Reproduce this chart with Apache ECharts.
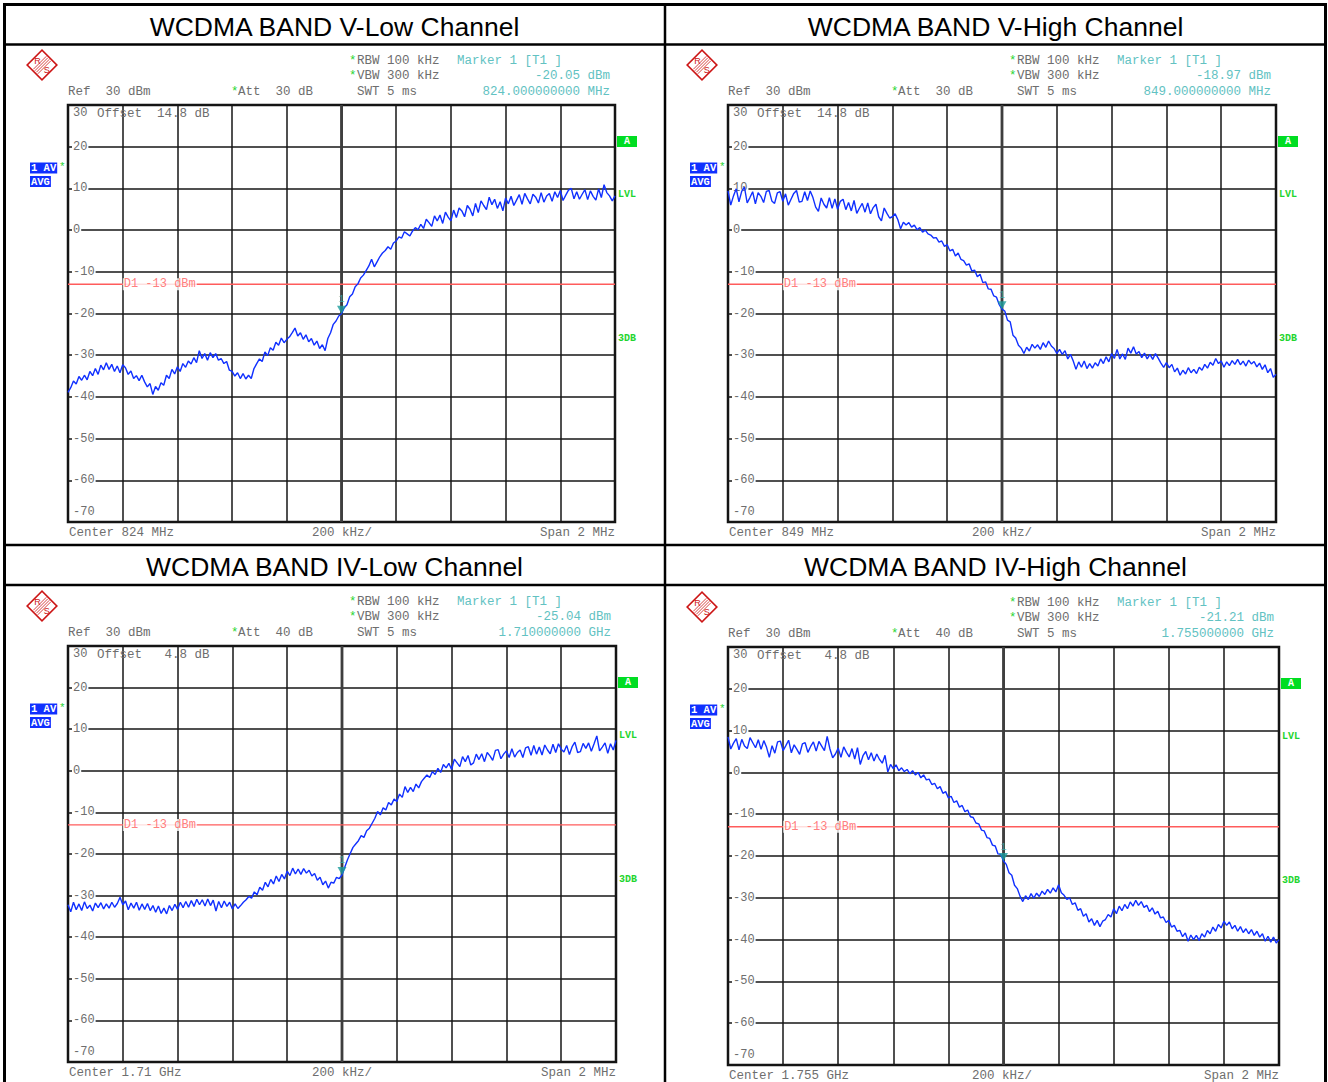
<!DOCTYPE html>
<html><head><meta charset="utf-8">
<script src="https://cdn.jsdelivr.net/npm/echarts@6/dist/echarts.min.js"></script>
<style>html,body{margin:0;padding:0;background:#fff;}#c{width:1328px;height:1082px;}</style>
</head><body><div id="c"></div>
<script>
// ---------------- data ----------------
const titles = ['WCDMA BAND V-Low Channel','WCDMA BAND V-High Channel','WCDMA BAND IV-Low Channel','WCDMA BAND IV-High Channel'];
const centerLabels = ['Center 824 MHz','Center 849 MHz','Center 1.71 GHz','Center 1.755 GHz'];
const attLabels = ['Att  30 dB','Att  30 dB','Att  40 dB','Att  40 dB'];
const offsetLabels = ['Offset  14.8 dB','Offset  14.8 dB','Offset   4.8 dB','Offset   4.8 dB'];
const markerLevels = [-20.05,-18.97,-25.04,-21.21];
const markerLevelLabels = ['-20.05 dBm','-18.97 dBm','-25.04 dBm','-21.21 dBm'];
const markerFreqLabels = ['824.000000000 MHz','849.000000000 MHz','1.710000000 GHz','1.755000000 GHz'];
const refLabel = 'Ref  30 dBm';
const rbwLabel = 'RBW 100 kHz', vbwLabel = 'VBW 300 kHz', swtLabel = 'SWT 5 ms';
const markerTitle = 'Marker 1 [T1 ]';
const divLabel = '200 kHz/', spanLabel = 'Span 2 MHz';
const limitLevel = -13, limitLabel = 'D1 -13 dBm';
const spanKHz = 2000, divKHz = 200;
const yTicks = [30,20,10,0,-10,-20,-30,-40,-50,-60,-70];

const traceVLow = [
-38.9,-37.8,-36.2,-36.9,-35.1,-36.0,-34.8,-35.9,-33.9,-34.9,
-33.2,-34.6,-32.4,-33.5,-31.8,-33.4,-32.2,-33.9,-32.6,-34.2,
-32.3,-33.0,-34.6,-33.8,-35.6,-34.9,-36.1,-34.8,-36.4,-37.6,
-36.8,-39.4,-37.5,-38.4,-36.6,-37.2,-34.8,-35.6,-33.4,-34.5,
-32.8,-33.9,-32.0,-32.9,-31.4,-32.1,-30.6,-31.8,-28.9,-30.8,
-29.6,-31.2,-29.4,-30.6,-29.6,-31.2,-30.8,-32.0,-31.5,-33.6,
-33.9,-35.0,-34.2,-35.6,-34.4,-35.7,-34.8,-35.6,-33.2,-32.0,
-30.9,-31.5,-29.2,-30.1,-28.2,-28.8,-26.9,-27.6,-25.9,-27.0,
-26.2,-25.6,-24.6,-23.5,-25.4,-24.6,-26.2,-25.1,-26.8,-26.0,
-27.6,-26.6,-28.4,-27.5,-28.9,-26.0,-24.6,-22.6,-21.8,-20.6,
-20.05,-18.6,-17.9,-16.0,-15.3,-13.6,-12.9,-11.5,-10.8,-9.7,
-8.6,-7.0,-8.8,-7.6,-6.4,-5.5,-4.9,-4.0,-4.6,-3.1,
-2.6,-1.6,-1.9,-0.4,-0.9,-1.4,-0.2,0.6,0.1,1.4,
0.4,2.6,1.8,0.9,3.4,2.2,3.6,1.6,4.3,3.1,
2.2,4.8,3.0,5.3,4.6,3.2,5.9,5.0,3.4,6.4,
4.2,7.0,5.9,4.9,7.9,6.1,7.4,5.2,6.8,4.6,
7.7,6.3,8.1,5.9,7.2,8.5,6.2,8.8,7.5,6.3,
8.6,7.9,6.5,9.0,6.7,8.2,8.8,6.9,9.2,7.8,
9.5,7.1,8.4,9.6,10.0,7.5,9.2,7.4,8.6,9.7,
7.3,9.4,8.1,7.2,9.9,7.8,10.9,9.0,8.2,7.0,
8.2];

const traceVHigh = [
9.4,6.0,8.2,9.9,6.8,9.3,10.3,6.5,7.8,9.2,
6.3,9.0,8.1,6.6,9.3,9.5,7.0,6.4,8.9,9.2,
6.9,8.7,6.0,7.4,8.8,9.5,6.7,6.9,9.2,7.1,
9.4,7.8,5.5,4.5,7.7,6.2,5.3,7.8,5.2,7.5,
5.0,6.9,7.4,4.9,6.6,4.6,7.1,4.0,5.3,6.4,
4.3,6.5,3.9,5.4,6.2,3.2,2.2,5.3,4.0,2.9,
3.2,3.9,2.5,0.3,1.9,1.2,1.8,0.7,1.2,0.1,
0.6,-0.5,0.0,-0.9,-1.2,-1.9,-1.8,-2.9,-2.6,-3.9,
-3.5,-5.0,-4.6,-6.2,-5.5,-7.0,-7.3,-8.4,-8.1,-9.8,
-9.6,-11.2,-10.6,-12.6,-12.4,-14.1,-14.2,-15.8,-16.1,-17.9,
-18.97,-19.4,-21.6,-22.0,-25.2,-25.9,-27.6,-28.3,-29.6,-28.1,
-29.0,-27.4,-28.3,-27.5,-28.6,-27.0,-28.1,-26.6,-27.8,-28.4,
-29.6,-28.6,-29.8,-28.9,-30.9,-29.8,-31.4,-33.4,-31.6,-32.9,
-31.4,-33.2,-32.0,-33.1,-31.8,-32.6,-30.9,-32.0,-30.4,-31.6,
-29.6,-30.8,-28.6,-30.9,-29.7,-31.0,-28.3,-29.5,-28.0,-29.7,
-29.1,-30.6,-29.5,-30.9,-29.8,-31.0,-29.6,-30.7,-31.9,-32.9,
-31.8,-33.0,-32.2,-34.0,-33.1,-34.8,-33.6,-34.5,-33.0,-34.2,
-33.4,-34.4,-32.9,-33.6,-32.2,-33.1,-31.7,-32.4,-30.8,-32.0,
-31.4,-32.9,-31.6,-32.5,-31.3,-32.2,-31.0,-32.3,-31.4,-32.6,
-31.2,-32.1,-31.5,-32.8,-31.9,-33.4,-32.3,-34.2,-33.2,-35.3,
-34.6];

const traceIVLow = [
-32.2,-33.9,-31.6,-33.4,-32.0,-33.6,-31.5,-33.1,-32.3,-33.7,
-31.8,-32.9,-31.7,-33.2,-32.0,-33.0,-31.6,-32.8,-31.9,-30.4,
-32.2,-31.3,-33.4,-31.8,-33.0,-31.6,-33.5,-32.0,-33.3,-31.9,
-33.6,-32.4,-34.0,-32.5,-34.3,-33.0,-34.4,-32.4,-33.6,-32.1,
-33.3,-31.6,-32.9,-31.4,-32.8,-31.2,-32.6,-30.9,-32.2,-31.0,
-32.5,-30.8,-32.4,-31.1,-33.7,-31.4,-32.9,-31.3,-32.6,-31.6,
-33.2,-32.0,-33.1,-32.4,-31.6,-31.0,-30.2,-30.6,-29.1,-29.8,
-28.0,-28.7,-26.8,-27.9,-26.1,-27.2,-25.3,-26.6,-24.9,-26.0,
-24.1,-25.2,-23.4,-24.8,-23.6,-24.9,-23.5,-24.6,-23.9,-25.3,
-24.7,-26.3,-25.6,-27.4,-26.5,-28.2,-26.8,-27.0,-25.6,-25.9,
-25.04,-23.2,-21.4,-19.9,-18.4,-17.6,-16.8,-15.6,-16.0,-14.4,
-13.8,-12.6,-11.4,-9.8,-10.6,-8.9,-9.4,-7.6,-8.2,-6.8,
-7.4,-5.6,-6.4,-3.8,-5.2,-4.0,-5.0,-3.2,-4.1,-2.6,
-1.8,-1.0,-1.6,-0.2,-0.9,0.6,-0.4,1.5,0.7,1.8,
0.3,2.8,1.9,1.0,3.4,2.2,3.7,1.4,1.9,4.0,
2.7,4.1,2.2,4.4,3.6,2.5,4.9,5.1,2.9,4.0,
4.8,3.2,5.3,3.3,4.4,5.0,3.2,5.5,5.8,3.7,
6.1,4.0,5.7,3.8,6.2,5.0,4.1,6.4,4.4,6.5,
5.2,4.5,6.1,3.9,5.8,6.9,4.4,4.6,6.6,5.4,
6.7,4.7,6.5,8.4,4.8,5.7,6.7,4.2,6.5,5.0,
7.3];

const traceIVHigh = [
8.5,5.6,7.0,8.1,5.4,7.9,6.3,5.7,8.3,7.1,
5.9,7.8,5.5,7.6,6.0,3.6,6.4,4.6,7.3,7.5,
5.2,6.4,7.7,4.7,6.6,5.5,4.3,6.8,7.1,4.8,
6.2,7.3,5.1,7.4,6.3,5.2,8.6,5.6,3.5,4.4,
5.8,3.6,6.1,4.8,3.7,5.7,3.2,5.9,1.9,4.0,
5.0,3.0,4.7,2.7,4.4,3.1,2.2,4.1,0.1,1.9,
0.9,1.8,0.4,1.1,0.2,0.7,-0.3,0.4,-0.6,0.0,
-1.3,-0.6,-1.8,-1.6,-2.9,-2.6,-3.9,-3.4,-5.0,-4.6,
-6.1,-5.7,-7.2,-6.8,-8.3,-7.9,-9.4,-9.0,-10.6,-10.8,
-12.1,-12.3,-13.8,-14.0,-15.6,-15.8,-17.4,-17.6,-19.5,-19.6,
-21.21,-22.0,-24.0,-24.6,-27.0,-27.8,-29.6,-30.9,-29.5,-30.4,
-29.0,-30.1,-28.9,-29.7,-28.4,-29.2,-28.0,-28.9,-27.6,-28.6,
-26.9,-28.8,-29.4,-30.4,-30.0,-31.6,-31.2,-33.0,-32.6,-34.4,
-33.8,-35.8,-35.0,-36.6,-35.4,-36.9,-35.6,-35.2,-34.0,-34.6,
-32.6,-33.8,-32.0,-33.1,-31.6,-32.6,-31.0,-32.0,-30.6,-31.8,
-30.9,-32.3,-31.8,-33.3,-32.4,-33.9,-33.2,-34.8,-34.6,-35.9,
-35.4,-37.0,-36.6,-38.0,-37.8,-39.3,-38.4,-40.4,-38.9,-40.0,
-39.0,-40.2,-38.6,-39.4,-37.8,-38.6,-37.0,-38.0,-36.4,-37.2,
-35.6,-36.6,-35.8,-37.4,-36.6,-38.0,-36.9,-38.3,-37.4,-38.6,
-37.6,-39.0,-38.0,-39.4,-38.6,-40.4,-39.2,-40.6,-39.4,-40.8,
-40.0];

const traces = [traceVLow, traceVHigh, traceIVLow, traceIVHigh];

// ---------------- layout & style ----------------
const panels = [
  {L:68, T:105, W:547, H:417, tx:334.5, ty:27},
  {L:728,T:105, W:548, H:417, tx:995.5, ty:27},
  {L:68, T:646, W:548, H:416, tx:334.5, ty:567},
  {L:728,T:647, W:551, H:418, tx:995.5, ty:567}
];
const MONO = '"Liberation Mono","DejaVu Sans Mono",monospace';
const GRAY = '#6e6e6e', TEAL = '#62c2c2', GREEN = '#1fd52f', RED = '#ff5c5c', BLUE = '#1030ff', LOGO = '#cc1515';
const FONT = '12.5px ' + MONO;

function txt(x, y, s, color, align, font, extra) {
  return {type:'text', x:x, y:y, silent:true, z:100,
    style:Object.assign({text:s, fill:color, font:font || FONT, align:align || 'left', verticalAlign:'middle'}, extra || {})};
}

const graphics = [];
// table frame
graphics.push({type:'rect', silent:true, z:50, shape:{x:4.5,y:4.5,width:1321,height:1095}, style:{fill:'none', stroke:'#000', lineWidth:3}});
graphics.push({type:'line', silent:true, z:50, shape:{x1:665,y1:4,x2:665,y2:1082}, style:{stroke:'#000', lineWidth:2.5}});
[44.5, 545, 585].forEach(function(y){
  graphics.push({type:'line', silent:true, z:50, shape:{x1:4,y1:y,x2:1326,y2:y}, style:{stroke:'#000', lineWidth:2.5}});
});

panels.forEach(function(p, k){
  const R = p.L + p.W, B = p.T + p.H;
  graphics.push(txt(p.tx, p.ty, titles[k], '#000', 'center', '26.5px "Liberation Sans", Arial, sans-serif'));
  // logo
  const cx = p.L - 26, cy = p.T - 40;
  const logo = [{type:'rect', shape:{x:-10.5,y:-10.5,width:21,height:21}, rotation:Math.PI/4, style:{fill:'#fff', stroke:LOGO, lineWidth:1.6}}];
  [-2.2,-0.7,0.8,2.3].forEach(function(o){
    logo.push({type:'line', shape:{x1:-6.5+o,y1:6.5+o,x2:6.5+o,y2:-6.5+o}, style:{stroke:LOGO, lineWidth:0.8}});
  });
  logo.push({type:'text', x:-4.5, y:-4.5, style:{text:'R', fill:LOGO, font:'9px "Liberation Sans"', align:'center', verticalAlign:'middle'}});
  logo.push({type:'text', x:4.8, y:4.8, style:{text:'S', fill:LOGO, font:'9px "Liberation Sans"', align:'center', verticalAlign:'middle'}});
  graphics.push({type:'group', x:cx, y:cy, silent:true, z:100, children:logo});
  // header texts
  graphics.push(txt(p.L + 281, p.T - 44, '*', GREEN));
  graphics.push(txt(p.L + 289, p.T - 44, rbwLabel, GRAY));
  graphics.push(txt(p.L + 281, p.T - 29, '*', GREEN));
  graphics.push(txt(p.L + 289, p.T - 29, vbwLabel, GRAY));
  graphics.push(txt(p.L + 289, p.T - 13, swtLabel, GRAY));
  graphics.push(txt(p.L + 389, p.T - 44, markerTitle, TEAL));
  graphics.push(txt(R - 5, p.T - 29, markerLevelLabels[k], TEAL, 'right'));
  graphics.push(txt(R - 5, p.T - 13, markerFreqLabels[k], TEAL, 'right'));
  graphics.push(txt(p.L, p.T - 13, refLabel, GRAY));
  graphics.push(txt(p.L + 163, p.T - 13, '*', GREEN));
  graphics.push(txt(p.L + 170, p.T - 13, attLabels[k], GRAY));
  graphics.push(txt(p.L + 29, p.T + 9, offsetLabels[k], GRAY));
  // left trace info
  graphics.push(txt(p.L - 38, p.T + 63, '1 AV', '#fff', 'left', 'bold 10.5px ' + MONO, {backgroundColor:BLUE, padding:[0,1,0,1]}));
  graphics.push(txt(p.L - 38, p.T + 76.5, 'AVG', '#fff', 'left', 'bold 10.5px ' + MONO, {backgroundColor:BLUE, padding:[0,1,0,1]}));
  graphics.push(txt(p.L - 9, p.T + 62, '*', GREEN, 'left', '11px ' + MONO));
  // right side flags
  graphics.push({type:'rect', silent:true, z:100, shape:{x:R + 2, y:p.T + 31, width:20, height:11}, style:{fill:'#00dd22'}});
  graphics.push(txt(R + 12, p.T + 36.5, 'A', '#fff', 'center', 'bold 10px ' + MONO));
  graphics.push(txt(R + 3, p.T + 89, 'LVL', GREEN, 'left', 'bold 10px ' + MONO));
  graphics.push(txt(R + 3, p.T + 233, '3DB', GREEN, 'left', 'bold 10px ' + MONO));
  // footer
  graphics.push(txt(p.L + 1, B + 11, centerLabels[k], GRAY));
  graphics.push(txt(p.L + 244, B + 11, divLabel, GRAY));
  graphics.push(txt(R, B + 11, spanLabel, GRAY, 'right'));
});

// ---------------- chart ----------------
const yTop = yTicks[0], yBot = yTicks[yTicks.length - 1];
const grids = [], xAxes = [], yAxes = [], series = [];
panels.forEach(function(p, k){
  grids.push({left:p.L, top:p.T, width:p.W, height:p.H, show:true, borderColor:'#111', borderWidth:2.5, backgroundColor:'transparent'});
  xAxes.push({type:'value', gridIndex:k, min:-spanKHz/2, max:spanKHz/2, interval:divKHz,
    axisLine:{show:false}, axisTick:{show:false}, axisLabel:{show:false},
    splitLine:{show:true, lineStyle:{color:'#161616', width:1.5}}});
  yAxes.push({type:'value', gridIndex:k, min:yBot, max:yTop, interval:yTicks[0]-yTicks[1],
    axisLine:{show:false}, axisTick:{show:false},
    splitLine:{show:true, lineStyle:{color:'#161616', width:1.5}},
    axisLabel:{inside:true, margin:4, showMinLabel:true, showMaxLabel:true,
      formatter:function(v){
        if (v === yTop) return '{sp| }\n{n|' + v + '}';
        if (v === yBot) return '{n|' + v + '}\n{sp2| }';
        return '{n|' + v + '}';
      },
      rich:{
        n:{color:GRAY, fontFamily:MONO, fontSize:12, lineHeight:14, backgroundColor:'#fff', padding:[0,1,0,1]},
        sp:{fontSize:1, lineHeight:16},
        sp2:{fontSize:1, lineHeight:20}
      }}});
  const tr = traces[k];
  const pts = tr.map(function(v, i){ return [-spanKHz/2 + i * spanKHz / (tr.length - 1), v]; });
  // center graticule line (heavier on the analyser screen)
  series.push({type:'line', xAxisIndex:k, yAxisIndex:k, silent:true, symbol:'none', animation:false,
    data:[[0, yTop], [0, yBot]], lineStyle:{color:'#3e3e3e', width:2.8}, z:1});
  // display line D1
  series.push({type:'line', xAxisIndex:k, yAxisIndex:k, silent:true, symbol:'none', animation:false,
    data:[[-spanKHz/2, limitLevel], [spanKHz/2, limitLevel]], lineStyle:{color:RED, width:1.4}, z:2});
  series.push({type:'scatter', xAxisIndex:k, yAxisIndex:k, silent:true, animation:false, symbolSize:0.1,
    itemStyle:{color:'rgba(0,0,0,0)'}, data:[[-spanKHz/2 + divKHz, limitLevel]], z:3,
    label:{show:true, position:'right', distance:0, formatter:limitLabel, color:RED, fontFamily:MONO, fontSize:12,
      backgroundColor:'#fff', padding:[0,1,0,1]}});
  // trace
  series.push({type:'line', xAxisIndex:k, yAxisIndex:k, silent:true, symbol:'none', animation:false,
    data:pts, lineStyle:{color:BLUE, width:1.4}, z:4});
  // marker 1
  series.push({type:'scatter', xAxisIndex:k, yAxisIndex:k, silent:true, animation:false,
    symbol:'triangle', symbolRotate:180, symbolSize:[9,8], symbolOffset:[0,-4],
    itemStyle:{color:'#1c9c9c'}, data:[[0, markerLevels[k]]], z:5,
    label:{show:true, position:'top', distance:1, formatter:'1', color:'#3ab0b0', fontFamily:MONO, fontSize:10}});
});

const chart = echarts.init(document.getElementById('c'), null, {renderer:'svg', width:1328, height:1082});
chart.setOption({
  animation:false,
  backgroundColor:'#fff',
  grid:grids, xAxis:xAxes, yAxis:yAxes, series:series,
  graphic:{elements:graphics}
});
</script></body></html>
